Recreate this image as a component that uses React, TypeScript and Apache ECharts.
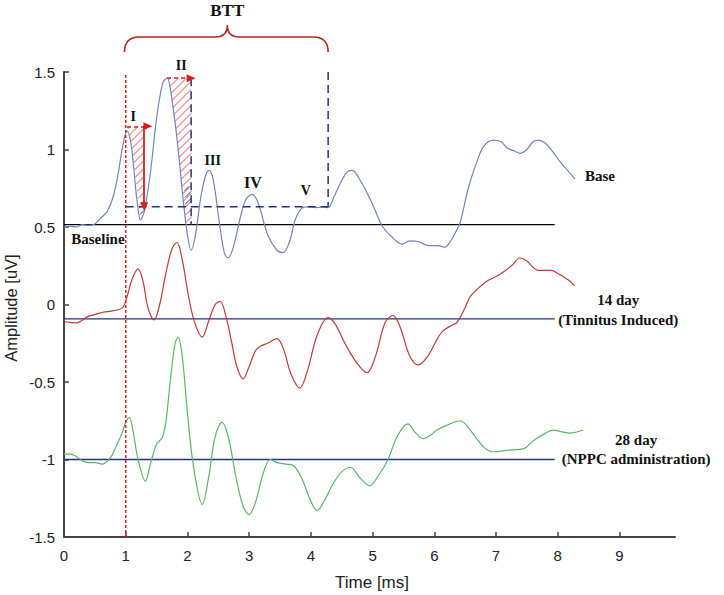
import React, { useEffect, useRef } from "react";
import * as echarts from "echarts";

// ---- Data (time in ms, amplitude in uV) ----
const baseCurve: number[][] = [
  [0, 0.5], [0.1, 0.505], [0.2, 0.5], [0.3, 0.515], [0.4, 0.51], [0.5, 0.52], [0.6, 0.56], [0.7, 0.6],
  [0.8, 0.7], [0.88, 0.85], [0.95, 1.02], [1.02, 1.12], [1.08, 1.05], [1.13, 0.88], [1.18, 0.68],
  [1.24, 0.545], [1.3, 0.6], [1.4, 0.85], [1.5, 1.2], [1.6, 1.43], [1.67, 1.46], [1.75, 1.32],
  [1.85, 1.0], [1.93, 0.68], [2.0, 0.45], [2.06, 0.35], [2.13, 0.45], [2.22, 0.7], [2.3, 0.84],
  [2.35, 0.865], [2.42, 0.8], [2.52, 0.52], [2.6, 0.33], [2.66, 0.3], [2.75, 0.38], [2.85, 0.55],
  [2.95, 0.68], [3.05, 0.71], [3.15, 0.65], [3.3, 0.45], [3.45, 0.35], [3.55, 0.335], [3.65, 0.4],
  [3.75, 0.55], [3.85, 0.62], [3.95, 0.63], [4.1, 0.625], [4.2, 0.63], [4.28, 0.625], [4.38, 0.7],
  [4.5, 0.8], [4.6, 0.86], [4.67, 0.865], [4.8, 0.8], [4.96, 0.68], [5.05, 0.6], [5.15, 0.51],
  [5.3, 0.44], [5.48, 0.39], [5.6, 0.41], [5.75, 0.405], [5.9, 0.38], [6.05, 0.38], [6.17, 0.37],
  [6.25, 0.4], [6.35, 0.47], [6.42, 0.53], [6.55, 0.75], [6.69, 0.92], [6.8, 1.02], [6.96, 1.06],
  [7.08, 1.05], [7.18, 1.01], [7.3, 0.99], [7.39, 0.975], [7.5, 1.0], [7.6, 1.05], [7.68, 1.06],
  [7.8, 1.04], [7.93, 0.98], [8.04, 0.92], [8.15, 0.87], [8.28, 0.81],
];

const day14Curve: number[][] = [
  [0, -0.11], [0.1, -0.115], [0.2, -0.12], [0.3, -0.1], [0.4, -0.075], [0.5, -0.065], [0.63, -0.05],
  [0.8, -0.04], [0.95, -0.02], [1.02, 0.05], [1.1, 0.16], [1.2, 0.23], [1.28, 0.15], [1.36, -0.02],
  [1.46, -0.1], [1.55, 0.0], [1.65, 0.2], [1.75, 0.36], [1.83, 0.4], [1.92, 0.28], [2.02, 0.05],
  [2.12, -0.12], [2.24, -0.21], [2.35, -0.1], [2.45, 0.0], [2.53, 0.02], [2.62, -0.07], [2.72, -0.25],
  [2.8, -0.4], [2.9, -0.48], [3.0, -0.4], [3.1, -0.3], [3.18, -0.27], [3.3, -0.25], [3.45, -0.22],
  [3.55, -0.28], [3.68, -0.45], [3.82, -0.54], [3.95, -0.42], [4.1, -0.2], [4.28, -0.085],
  [4.4, -0.13], [4.55, -0.25], [4.75, -0.38], [4.91, -0.44], [5.05, -0.33], [5.2, -0.12],
  [5.33, -0.07], [5.45, -0.15], [5.6, -0.33], [5.74, -0.39], [5.9, -0.33], [6.05, -0.22],
  [6.14, -0.17], [6.3, -0.13], [6.37, -0.115], [6.5, -0.02], [6.58, 0.05], [6.7, 0.1], [6.85, 0.15],
  [7.0, 0.18], [7.12, 0.21], [7.25, 0.25], [7.39, 0.3], [7.5, 0.28], [7.6, 0.24], [7.68, 0.22],
  [7.8, 0.22], [7.9, 0.22], [8.0, 0.2], [8.09, 0.18], [8.2, 0.15], [8.27, 0.12],
];

const day28Curve: number[][] = [
  [0, -0.965], [0.1, -0.965], [0.2, -0.98], [0.3, -1.01], [0.4, -1.02], [0.5, -1.02], [0.62, -1.03],
  [0.75, -0.99], [0.85, -0.91], [0.94, -0.83], [1.0, -0.76], [1.06, -0.73], [1.12, -0.82], [1.2, -1.0],
  [1.32, -1.14], [1.4, -1.03], [1.5, -0.9], [1.59, -0.86], [1.65, -0.76], [1.72, -0.5], [1.8, -0.25],
  [1.85, -0.21], [1.92, -0.35], [2.0, -0.7], [2.1, -1.05], [2.24, -1.29], [2.35, -1.1], [2.45, -0.85],
  [2.56, -0.76], [2.66, -0.85], [2.78, -1.1], [2.9, -1.3], [3.0, -1.355], [3.1, -1.28], [3.22, -1.1],
  [3.34, -1.0], [3.45, -1.02], [3.6, -1.03], [3.72, -1.04], [3.85, -1.12], [4.0, -1.27], [4.1, -1.33],
  [4.2, -1.28], [4.37, -1.15], [4.5, -1.08], [4.64, -1.05], [4.8, -1.12], [4.95, -1.17], [5.1, -1.1],
  [5.25, -1.0], [5.4, -0.85], [5.57, -0.77], [5.7, -0.83], [5.82, -0.865], [5.95, -0.84], [6.04, -0.81],
  [6.2, -0.78], [6.42, -0.75], [6.6, -0.82], [6.8, -0.92], [6.95, -0.95], [7.2, -0.94], [7.45, -0.93],
  [7.6, -0.88], [7.8, -0.83], [7.93, -0.81], [8.05, -0.82], [8.2, -0.83], [8.41, -0.81],
];

// reference (baseline) levels
const baselineBase = 0.515;
const baseline14 = -0.093;
const baseline28 = -1.0;
const baselineEnd = 7.95;

// annotation geometry (data units)
const btt = { start: 1.0, end: 4.28, level: 0.63 };
const waveIIEnd = 2.06;
const arrowI = { x0: 1.02, x1: 1.36, xv: 1.3, top: 1.15, bottom: 0.63 };
const arrowII = { x0: 1.67, x1: 2.06, y: 1.46 };

const hatchRedI: number[][] = [
  [1.03, 1.15], [1.3, 1.15], [1.3, 0.63], [1.22, 0.63], [1.17, 0.78], [1.12, 0.95], [1.07, 1.08], [1.04, 1.12],
];
const hatchNavyI: number[][] = [
  [1.22, 0.63], [1.3, 0.63], [1.28, 0.57], [1.25, 0.54], [1.23, 0.58],
];
const hatchRedII: number[][] = [
  [1.69, 1.46], [2.06, 1.46], [2.06, 0.53], [1.99, 0.53], [1.93, 0.68], [1.85, 1.0], [1.75, 1.32],
];
const hatchNavyII: number[][] = [
  [1.95, 0.76], [2.06, 0.76], [2.06, 0.64], [1.97, 0.64],
];

const waveLabels: { text: string; t: number; v: number; size: number }[] = [
  { text: "I", t: 1.12, v: 1.21, size: 14 },
  { text: "II", t: 1.9, v: 1.54, size: 14 },
  { text: "III", t: 2.41, v: 0.93, size: 14 },
  { text: "IV", t: 3.06, v: 0.79, size: 16 },
  { text: "V", t: 3.92, v: 0.735, size: 14 },
];

const xTicks = [0, 1, 2, 3, 4, 5, 6, 7, 8, 9];

const BLUE = "#7282c0";
const RED = "#c0393b";
const GREEN = "#5cb46a";
const NAVY = "#1f3579";
const ARROW_RED = "#d42020";
const HATCH_RED = "#ee4444";
const SERIF = '"Liberation Serif", "Times New Roman", serif';
const SANS = '"Liberation Sans", Arial, sans-serif';

const W = 724;
const H = 595;
const GRID = { left: 64, right: 49, top: 72, bottom: 58 };
const X_MAX = 9.9;
const Y_MIN = -1.5;
const Y_MAX = 1.5;

// Hatch segments computed in data space, using the grid's pixel aspect so the
// lines come out at 45 degrees on screen. Returns line-series data with gaps.
function hatchData(poly: number[][], spacingPx: number) {
  const sx = (W - GRID.left - GRID.right) / X_MAX; // px per ms
  const sy = (H - GRID.top - GRID.bottom) / (Y_MAX - Y_MIN); // px per uV
  const pts = poly.map((p) => [p[0] * sx, -p[1] * sy]);
  const sums = pts.map((p) => p[0] + p[1]);
  const lo = Math.min(...sums);
  const hi = Math.max(...sums);
  const out: any[] = [];
  for (let c = Math.ceil(lo / spacingPx) * spacingPx; c <= hi; c += spacingPx) {
    const xs: number[][] = [];
    for (let i = 0; i < pts.length; i++) {
      const a = pts[i];
      const b = pts[(i + 1) % pts.length];
      const fa = a[0] + a[1] - c;
      const fb = b[0] + b[1] - c;
      if ((fa < 0 && fb >= 0) || (fb < 0 && fa >= 0)) {
        const k = fa / (fa - fb);
        xs.push([a[0] + (b[0] - a[0]) * k, a[1] + (b[1] - a[1]) * k]);
      }
    }
    xs.sort((p, q) => p[0] - q[0]);
    for (let j = 0; j + 1 < xs.length; j += 2) {
      out.push([xs[j][0] / sx, -xs[j][1] / sy]);
      out.push([xs[j + 1][0] / sx, -xs[j + 1][1] / sy]);
      out.push(["-", "-"]);
    }
  }
  return out;
}

function txt(x: number, y: number, text: string, size: number, align = "center") {
  return {
    type: "text",
    x,
    y,
    style: {
      text,
      fill: "#111",
      fontSize: size,
      fontWeight: "bold",
      fontFamily: SERIF,
      align,
      verticalAlign: "middle",
    },
  };
}

export default function App() {
  const ref = useRef<HTMLDivElement>(null);
  useEffect(() => {
    if (!ref.current) return;
    const chart = echarts.init(ref.current, undefined, { renderer: "svg" });

    const lineSeries = (data: number[][], color: string, width = 1.2) => ({
      type: "line",
      data,
      showSymbol: false,
      symbol: "none",
      smooth: 0.35,
      silent: true,
      lineStyle: { color, width },
      z: 3,
    });

    const straight = (data: any[], color: string, width: number, type: any, z = 4) => ({
      type: "line",
      data,
      showSymbol: false,
      symbol: "none",
      silent: true,
      connectNulls: false,
      lineStyle: { color, width, type },
      z,
    });

    const option: any = {
      animation: false,
      grid: GRID,
      xAxis: {
        type: "value",
        min: 0,
        max: X_MAX,
        axisLine: { show: true, onZero: false, lineStyle: { color: "#444", width: 2 } },
        axisTick: { show: true, inside: true, length: 5, customValues: xTicks, lineStyle: { color: "#444", width: 1.5 } },
        axisLabel: { customValues: xTicks, color: "#222", fontSize: 15, fontFamily: SANS, margin: 11 },
        splitLine: { show: false },
      },
      yAxis: {
        type: "value",
        min: Y_MIN,
        max: Y_MAX,
        interval: 0.5,
        axisLine: { show: true, onZero: false, lineStyle: { color: "#444", width: 2 } },
        axisTick: { show: true, inside: true, length: 5, lineStyle: { color: "#444", width: 1.5 } },
        axisLabel: { color: "#222", fontSize: 15, fontFamily: SANS, margin: 9 },
        splitLine: { show: false },
      },
      graphic: [
        {
          type: "text",
          x: 11,
          y: 308,
          rotation: Math.PI / 2,
          style: { text: "Amplitude [uV]", fill: "#222", fontSize: 16.5, fontFamily: SANS, align: "center", verticalAlign: "middle" },
        },
        {
          type: "text",
          x: 372,
          y: 582,
          style: { text: "Time [ms]", fill: "#222", fontSize: 17, fontFamily: SANS, align: "center", verticalAlign: "middle" },
        },
      ],
      series: [
        // reference levels
        straight([[0, baselineBase], [baselineEnd, baselineBase]], "#000", 1.3, "solid", 2),
        straight([[0, baseline14], [baselineEnd, baseline14]], NAVY, 1.3, "solid", 2),
        straight([[0, baseline28], [baselineEnd, baseline28]], NAVY, 1.3, "solid", 2),
        // hatching
        straight([...hatchData(hatchRedI, 8), ...hatchData(hatchRedII, 8)], HATCH_RED, 1, "solid", 2),
        straight([...hatchData(hatchNavyI, 7), ...hatchData(hatchNavyII, 7)], NAVY, 1, "solid", 2),
        // curves
        lineSeries(baseCurve, BLUE),
        lineSeries(day14Curve, RED),
        lineSeries(day28Curve, GREEN),
        // BTT dashed lines
        straight([[btt.start, btt.level], [btt.end, btt.level]], NAVY, 1.5, [8, 5]),
        straight([[btt.end, 1.5], [btt.end, btt.level]], NAVY, 1.5, [8, 5]),
        straight([[waveIIEnd, arrowII.y], [waveIIEnd, baselineBase]], NAVY, 1.5, [8, 5]),
        // stimulus onset dotted red + arrows
        {
          ...straight([[btt.start, 1.48], [btt.start, -1.5]], ARROW_RED, 1.5, [3, 2], 5),
          markLine: {
            silent: true,
            symbol: ["none", "triangle"],
            symbolSize: [8, 9],
            label: { show: false },
            emphasis: { disabled: true },
            data: [
              [
                { coord: [arrowI.x0, arrowI.top], lineStyle: { type: [4, 3], color: ARROW_RED, width: 1.5 } },
                { coord: [arrowI.x1, arrowI.top] },
              ],
              [
                { coord: [arrowI.xv, arrowI.top], lineStyle: { type: "solid", color: ARROW_RED, width: 1.8 } },
                { coord: [arrowI.xv, arrowI.bottom] },
              ],
              [
                { coord: [arrowII.x0, arrowII.y], lineStyle: { type: [4, 3], color: ARROW_RED, width: 1.5 } },
                { coord: [arrowII.x1, arrowII.y] },
              ],
            ],
          },
        },
        // annotations: brace and labels
        {
          type: "custom",
          data: [[0, 0]],
          clip: false,
          silent: true,
          z: 6,
          renderItem: (params: any, api: any) => {
            const X = (t: number) => api.coord([t, 0])[0];
            const Y = (v: number) => api.coord([0, v])[1];
            const children: any[] = [];
            const xl = X(0.98);
            const xr = X(btt.end);
            const xm = (xl + xr) / 2 + 1;
            const yEnd = Y(1.5) - 20;
            const yBar = Y(1.5) - 35;
            const yTip = Y(1.5) - 47;
            const d =
              `M${xl},${yEnd} Q${xl},${yBar} ${xl + 15},${yBar} L${xm - 12},${yBar} ` +
              `Q${xm},${yBar} ${xm},${yTip} Q${xm},${yBar} ${xm + 12},${yBar} L${xr - 15},${yBar} ` +
              `Q${xr},${yBar} ${xr},${yEnd}`;
            children.push({
              type: "path",
              shape: { pathData: d },
              style: { stroke: "#b3261e", lineWidth: 1.6, fill: "none" },
            });
            children.push(txt(xm, Y(1.5) - 62, "BTT", 17));
            for (const w of waveLabels) children.push(txt(X(w.t), Y(w.v), w.text, w.size));
            children.push(txt(X(0.55), Y(0.42), "Baseline", 15));
            children.push(txt(X(8.44), Y(0.826), "Base", 15, "left"));
            children.push(txt(X(8.98), Y(0.03), "14 day", 15));
            children.push(txt(X(8.98), Y(-0.097), "(Tinnitus Induced)", 15));
            children.push(txt(X(9.27), Y(-0.877), "28 day", 15));
            children.push(txt(X(9.27), Y(-0.994), "(NPPC administration)", 15));
            return { type: "group", children };
          },
        },
      ],
    };
    chart.setOption(option);
    return () => chart.dispose();
  }, []);
  return <div ref={ref} style={{ position: "fixed", left: 0, top: 0, width: W, height: H, background: "#fff" }} />;
}
